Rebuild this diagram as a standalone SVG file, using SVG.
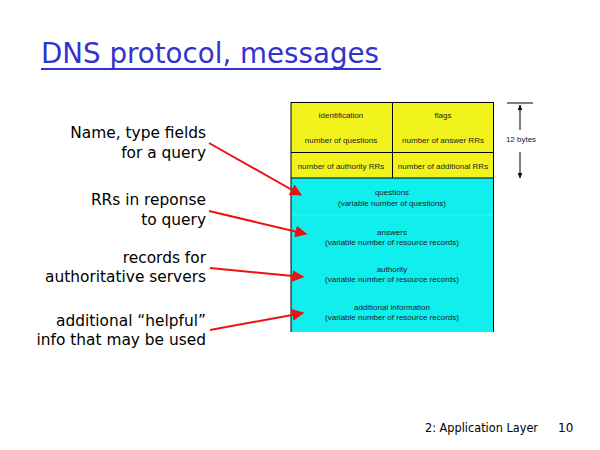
<svg xmlns="http://www.w3.org/2000/svg" width="600" height="450" viewBox="0 0 600 450">
<defs>
<style>
.lbl{font-family:"DejaVu Sans",sans-serif;font-size:15.4px;fill:#000;text-anchor:end}
.sm{font-family:"Liberation Sans",Arial,sans-serif;font-size:8px;fill:#222;text-anchor:middle}
.arr{stroke:#ee1111;stroke-width:2;fill:none;marker-end:url(#ah)}
.blk{stroke:#000;stroke-width:1;fill:none}
</style>
<marker id="ah" viewBox="0 0 10 10" refX="9" refY="5" markerWidth="6" markerHeight="6" markerUnits="strokeWidth" orient="auto">
<path d="M0,0 L10,5 L0,10 Z" fill="#ee1111"/>
</marker>
<marker id="bh" viewBox="0 0 10 10" refX="9" refY="5" markerWidth="6" markerHeight="6" orient="auto">
<path d="M0,1 L10,5 L0,9 Z" fill="#000"/>
</marker>
</defs>
<rect width="600" height="450" fill="#fff"/>
<g id="title">
<text x="41" y="63" font-family="DejaVu Sans,sans-serif" font-size="29" fill="#3333cc" textLength="338" lengthAdjust="spacingAndGlyphs">DNS protocol, messages</text>
<rect x="41" y="68" width="340" height="2" fill="#3333cc"/>
</g>
<g id="header">
<rect x="291" y="102" width="203" height="76" fill="#f2f21c"/>
<line class="blk" x1="291" y1="152.5" x2="494" y2="152.5"/>
<line class="blk" x1="392.5" y1="102" x2="392.5" y2="178"/>
<text class="sm" x="341" y="118">identification</text>
<text class="sm" x="443" y="118">flags</text>
<text class="sm" x="341" y="143">number of questions</text>
<text class="sm" x="443" y="143">number of answer RRs</text>
<text class="sm" x="341" y="169">number of authority RRs</text>
<text class="sm" x="443" y="169">number of additional RRs</text>
</g>
<g id="body">
<rect x="291" y="178" width="203" height="154" fill="#10eeee"/>
<line x1="292" y1="215" x2="493" y2="215" stroke="#3ef2f2" stroke-width="1"/>
<text class="sm" x="392" y="195">questions</text>
<text class="sm" x="392" y="206">(variable number of questions)</text>
<text class="sm" x="392" y="235">answers</text>
<text class="sm" x="392" y="245">(variable number of resource records)</text>
<text class="sm" x="392" y="272">authority</text>
<text class="sm" x="392" y="282">(variable number of resource records)</text>
<text class="sm" x="392" y="310">additional information</text>
<text class="sm" x="392" y="320">(variable number of resource records)</text>
</g>
<g id="borders">
<line class="blk" x1="291" y1="102.5" x2="494" y2="102.5"/>
<line class="blk" x1="291" y1="178" x2="494" y2="178"/>
<line class="blk" x1="291" y1="102" x2="291" y2="332"/>
<line class="blk" x1="493.5" y1="102" x2="493.5" y2="332"/>
</g>
<g id="size">
<line class="blk" x1="507" y1="103" x2="533" y2="103"/>
<line class="blk" x1="520" y1="130" x2="520" y2="105" marker-end="url(#bh)"/>
<text class="sm" x="521" y="142">12 bytes</text>
<line class="blk" x1="520" y1="152" x2="520" y2="178" marker-end="url(#bh)"/>
</g>
<g id="labels">
<text class="lbl" x="206" y="138">Name, type fields</text>
<text class="lbl" x="206" y="158">for a query</text>
<text class="lbl" x="206" y="205">RRs in reponse</text>
<text class="lbl" x="206" y="225">to query</text>
<text class="lbl" x="206" y="263">records for</text>
<text class="lbl" x="206" y="282">authoritative servers</text>
<text class="lbl" x="206" y="326">additional “helpful”</text>
<text class="lbl" x="206" y="345">info that may be used</text>
</g>
<g id="connectors">
<line class="arr" x1="209" y1="143" x2="301" y2="195"/>
<line class="arr" x1="209" y1="211" x2="306" y2="234"/>
<line class="arr" x1="210" y1="268" x2="303" y2="277"/>
<line class="arr" x1="210" y1="330" x2="303" y2="313"/>
</g>
<g id="footer">
<text x="425" y="432" font-family="DejaVu Sans,sans-serif" font-size="12" fill="#000" textLength="113" lengthAdjust="spacingAndGlyphs">2: Application Layer</text>
<text x="558" y="432" font-family="DejaVu Sans,sans-serif" font-size="12" fill="#000">10</text>
</g>
</svg>
